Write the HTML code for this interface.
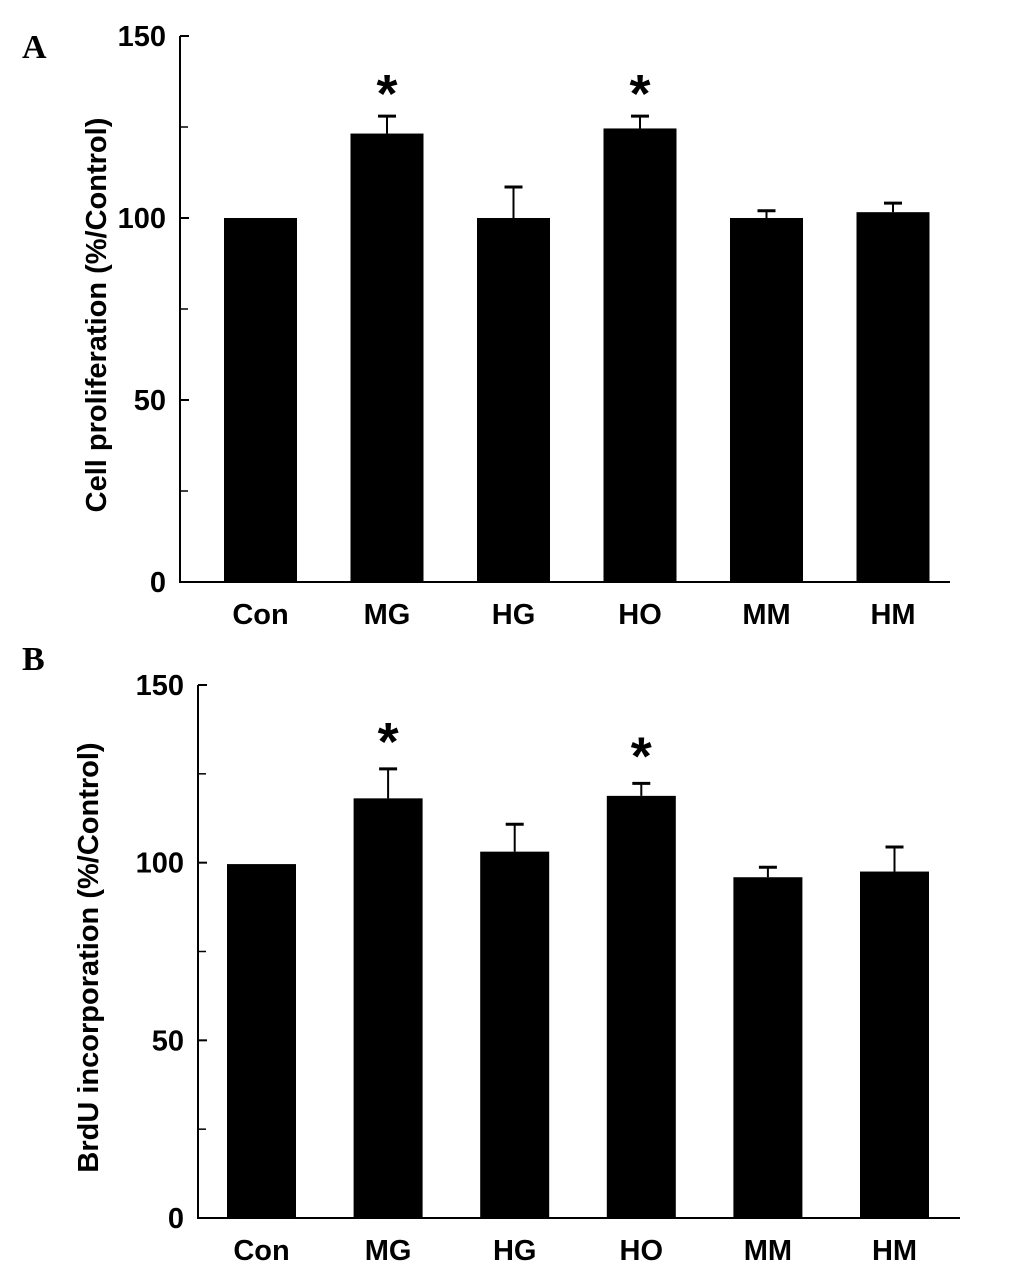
<!DOCTYPE html>
<html><head><meta charset="utf-8"><style>
body{margin:0;background:#fff;}
svg{display:block;font-family:"Liberation Sans",Arial,sans-serif;}
</style></head><body>
<svg id="chart" width="1033" height="1268" viewBox="0 0 1033 1268" xmlns="http://www.w3.org/2000/svg">
<text x="22" y="58" font-family="Liberation Serif,serif" font-weight="bold" font-size="34">A</text>
<text x="22" y="670" font-family="Liberation Serif,serif" font-weight="bold" font-size="34">B</text>
<g id="pa"></g>
<g id="pb"></g>
</svg>
<script>
const categories = ["Con","MG","HG","HO","MM","HM"];
const valuesA = [100, 123.2, 100, 124.6, 100, 101.6];
const errA = [0, 4.8, 8.5, 3.4, 2, 2.5];
const sigA = [false, true, false, true, false, false];
const valuesB = [99.6, 118.1, 103.1, 118.8, 95.9, 97.5];
const errB = [0, 8.3, 7.7, 3.5, 2.8, 6.9];
const sigB = [false, true, false, true, false, false];
const yTicks = [0, 50, 100, 150];
const yMinor = [25, 75, 125];

const NS = "http://www.w3.org/2000/svg";
function mk(parent, tag, attrs, txt){
  const e = document.createElementNS(NS, tag);
  for (const k in attrs) e.setAttribute(k, attrs[k]);
  if (txt !== undefined) e.textContent = txt;
  parent.appendChild(e);
  return e;
}
function panel(g, cfg, vals, errs, sig, title){
  const y = v => cfg.y0 - (v / 150) * (cfg.y0 - cfg.y150);
  const bx = i => cfg.x0 + i * cfg.step;
  let e = mk(g,'line',{x1:cfg.ax,y1:cfg.y150,x2:cfg.ax,y2:cfg.y0+1,stroke:'#000','stroke-width':2});
   
  e = mk(g,'line',{x1:cfg.ax,y1:cfg.y0,x2:cfg.xEnd,y2:cfg.y0,stroke:'#000','stroke-width':2});
   
  yTicks.forEach(t=>{
    e = mk(g,'line',{x1:cfg.ax,y1:y(t),x2:cfg.ax+9,y2:y(t),stroke:'#000','stroke-width':2});
     
    e = mk(g,'text',{x:cfg.ax-14,y:y(t)+10,'text-anchor':'end','font-size':29,'font-weight':'bold'},String(t));
     
  });
  yMinor.forEach(t=>{
    e = mk(g,'line',{x1:cfg.ax,y1:y(t),x2:cfg.ax+8,y2:y(t),stroke:'#000','stroke-width':1.5});
     
  });
  e = mk(g,'text',{x:0,y:0,'text-anchor':'middle','font-size':29,'font-weight':'bold',transform:`translate(${cfg.titleX},${(cfg.y0+cfg.y150)/2+6}) rotate(-90)`},title);
   
  categories.forEach((c,i)=>{
    const x = bx(i), top = y(vals[i]), cx = x + cfg.bw/2;
    if (errs[i] > 0){
      const et = y(vals[i]+errs[i]);
      e = mk(g,'line',{x1:cx,y1:et,x2:cx,y2:top,stroke:'#000','stroke-width':2});
       
      e = mk(g,'line',{x1:cx-9,y1:et,x2:cx+9,y2:et,stroke:'#000','stroke-width':3});
       
    }
    e = mk(g,'rect',{x:x,y:top,width:cfg.bw,height:cfg.y0-top,fill:'#000'});
     
    if (sig[i]){
      e = mk(g,'text',{x:cx,y:y(vals[i]+errs[i])-cfg.starGap,'text-anchor':'middle','font-size':54,'font-weight':'bold'},'*');
       
    }
    e = mk(g,'text',{x:cx,y:cfg.y0+42,'text-anchor':'middle','font-size':29,'font-weight':'bold'},c);
     
  });
}
panel(document.getElementById('pa'),
  {ax:180,y0:582,y150:36,x0:224,step:126.5,bw:73,xEnd:950,titleX:106,starGap:4},
  valuesA, errA, sigA, 'Cell proliferation (%/Control)');
panel(document.getElementById('pb'),
  {ax:198,y0:1218,y150:685,x0:227,step:126.6,bw:69,xEnd:960,titleX:98,starGap:9},
  valuesB, errB, sigB, 'BrdU incorporation (%/Control)');
</script>
</body></html>
